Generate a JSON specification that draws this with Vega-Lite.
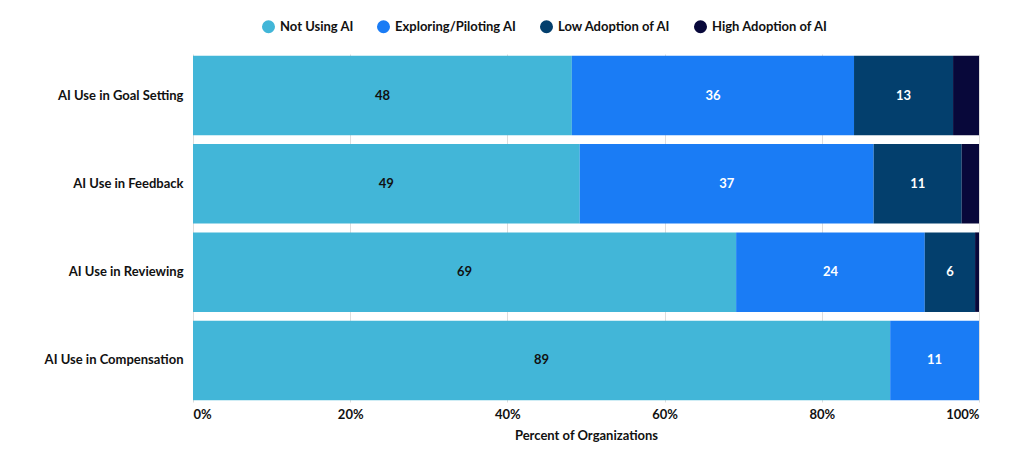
{
  "$schema": "https://vega.github.io/schema/vega-lite/v6.json",
  "width": 786,
  "height": 348,
  "autosize": {"type": "none"},
  "padding": {"left": 193, "top": 54, "right": 45, "bottom": 54},
  "background": "white",
  "config": {
    "font": "Lato",
    "view": {"stroke": null},
    "axis": {"labelFont": "Lato", "titleFont": "Lato", "labelColor": "#111", "titleColor": "#111"}
  },
  "data": {
    "values": [
      {"use": "AI Use in Goal Setting", "stage": "Not Using AI", "o": 1, "pct": 48.2},
      {"use": "AI Use in Goal Setting", "stage": "Exploring/Piloting AI", "o": 2, "pct": 35.9},
      {"use": "AI Use in Goal Setting", "stage": "Low Adoption of AI", "o": 3, "pct": 12.6},
      {"use": "AI Use in Goal Setting", "stage": "High Adoption of AI", "o": 4, "pct": 3.3},
      {"use": "AI Use in Feedback", "stage": "Not Using AI", "o": 1, "pct": 49.2},
      {"use": "AI Use in Feedback", "stage": "Exploring/Piloting AI", "o": 2, "pct": 37.4},
      {"use": "AI Use in Feedback", "stage": "Low Adoption of AI", "o": 3, "pct": 11.2},
      {"use": "AI Use in Feedback", "stage": "High Adoption of AI", "o": 4, "pct": 2.2},
      {"use": "AI Use in Reviewing", "stage": "Not Using AI", "o": 1, "pct": 69.1},
      {"use": "AI Use in Reviewing", "stage": "Exploring/Piloting AI", "o": 2, "pct": 24.0},
      {"use": "AI Use in Reviewing", "stage": "Low Adoption of AI", "o": 3, "pct": 6.4},
      {"use": "AI Use in Reviewing", "stage": "High Adoption of AI", "o": 4, "pct": 0.5},
      {"use": "AI Use in Compensation", "stage": "Not Using AI", "o": 1, "pct": 88.7},
      {"use": "AI Use in Compensation", "stage": "Exploring/Piloting AI", "o": 2, "pct": 11.3},
      {"use": "AI Use in Compensation", "stage": "Low Adoption of AI", "o": 3, "pct": 0},
      {"use": "AI Use in Compensation", "stage": "High Adoption of AI", "o": 4, "pct": 0}
    ]
  },
  "transform": [
    {"stack": "pct", "groupby": ["use"], "sort": [{"field": "o"}], "as": ["x0", "x1"]},
    {"calculate": "(datum.x0 + datum.x1) / 2", "as": "mid"}
  ],
  "encoding": {
    "y": {
      "field": "use", "type": "nominal", "sort": null,
      "scale": {"paddingInner": 0.1, "paddingOuter": 0.02},
      "axis": {"title": null, "ticks": false, "domain": false, "labelFontSize": 13, "labelFontWeight": "bold", "labelPadding": 10}
    }
  },
  "layer": [
    {
      "mark": {"type": "bar"},
      "encoding": {
        "x": {
          "field": "x0", "type": "quantitative",
          "scale": {"domain": [0, 100]},
          "axis": {
            "title": "Percent of Organizations", "titleFontSize": 13, "titleFontWeight": "bold", "titlePadding": 8,
            "labelExpr": "datum.value + '%'", "values": [0, 20, 40, 60, 80, 100],
            "labelFontSize": 13, "labelFontWeight": "bold", "ticks": false, "domain": false,
            "grid": true, "gridColor": "#dddddd", "labelPadding": 6
          }
        },
        "x2": {"field": "x1"},
        "color": {
          "field": "stage", "type": "nominal",
          "scale": {
            "domain": ["Not Using AI", "Exploring/Piloting AI", "Low Adoption of AI", "High Adoption of AI"],
            "range": ["#42b6d8", "#1a7cf5", "#033f6d", "#08083a"]
          },
          "legend": {
            "title": null, "orient": "none", "direction": "horizontal",
            "legendX": 68, "legendY": -35, "symbolType": "circle", "symbolSize": 170,
            "labelFontSize": 13, "labelFontWeight": "bold", "columnPadding": 22, "labelColor": "#111"
          }
        }
      }
    },
    {
      "transform": [{"filter": "datum.pct >= 5"}],
      "mark": {"type": "text", "fontSize": 13, "fontWeight": "bold"},
      "encoding": {
        "x": {"field": "mid", "type": "quantitative"},
        "text": {"field": "pct", "type": "quantitative", "format": ".0f", "formatType": "number"},
        "color": {
          "condition": {"test": "datum.stage === 'Not Using AI'", "value": "#111111"},
          "value": "white"
        }
      }
    },
    {
      "transform": [{"filter": "datum.pct >= 5"}],
      "mark": {"type": "text", "fontSize": 13, "fontWeight": "bold", "opacity": 0},
      "encoding": {"x": {"field": "mid", "type": "quantitative"}}
    }
  ]
}
